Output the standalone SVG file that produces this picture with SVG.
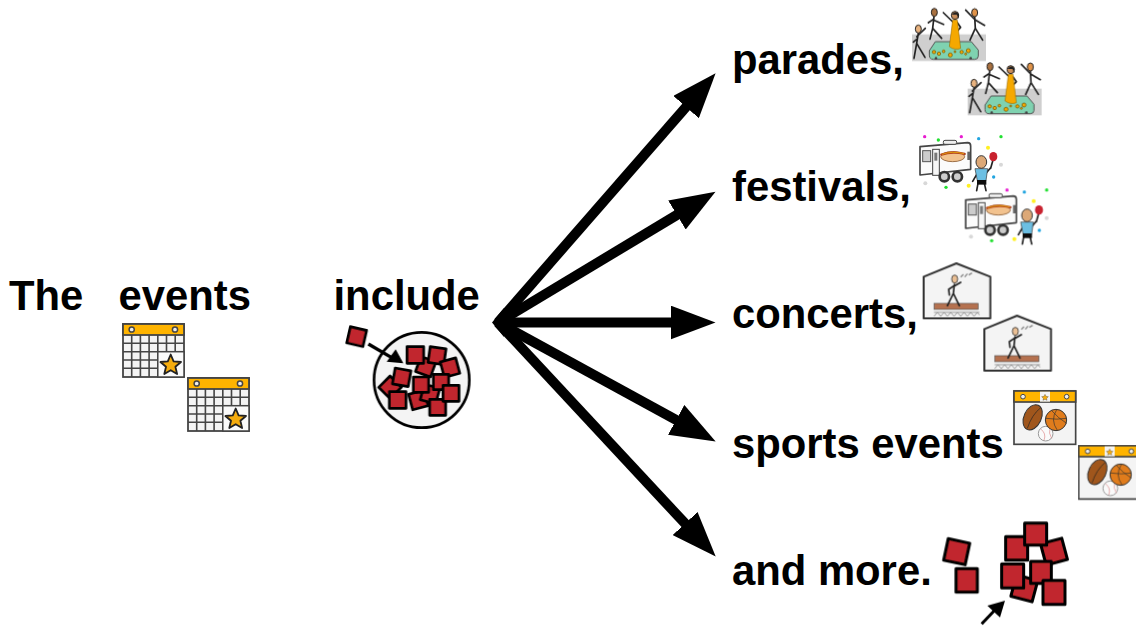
<svg xmlns="http://www.w3.org/2000/svg" width="1136" height="627" viewBox="0 0 1136 627">
<style>
text{font-family:"Liberation Sans",Arial,sans-serif;font-weight:700;font-size:41.8px;fill:#000}
.ar{stroke:#000;stroke-width:10;fill:none;marker-end:url(#head)}
.sq{fill:#c1272d;stroke:#000;stroke-width:8;stroke-linejoin:round}
.st{fill:none;stroke:#222;stroke-width:5;stroke-linecap:round;stroke-linejoin:round}
.grid{fill:none;stroke:#444;stroke-width:1.6}
.soft{filter:url(#soft)}
</style>
<defs>
<filter id="soft" x="-5%" y="-5%" width="110%" height="110%"><feGaussianBlur stdDeviation="0.35"/></filter>
<marker id="head" markerUnits="userSpaceOnUse" markerWidth="46" markerHeight="34" refX="3" refY="17" orient="auto"><path d="M0 0L45 17L0 34z" fill="#000"/></marker>
<g id="calendar">
<rect x="0" y="0" width="61" height="53" fill="#f4f4f4" stroke="#444" stroke-width="1.8"/>
<path class="grid" d="M8.7 11V53M17.4 11V53M26.1 11V53M34.8 11V27.7M43.5 11V27.7M52.2 11V27.7M0 19.3H61M0 27.7H61M0 36H34.8M0 44.3H34.8M34.8 27.7V53"/>
<rect x="34.8" y="27.7" width="26.2" height="25.3" fill="#fafafa" stroke="#444" stroke-width="1.5"/>
<rect x="0" y="0" width="61" height="11" fill="#ffb400" stroke="#444" stroke-width="1.8"/>
<circle cx="8.7" cy="5.5" r="2.6" fill="#eee" stroke="#444" stroke-width="1.5"/>
<circle cx="52" cy="5.5" r="2.6" fill="#eee" stroke="#444" stroke-width="1.5"/>
<path d="M47.7 30.5L50.6 37.3L58 38L52.4 42.8L54.1 50L47.7 46.2L41.3 50L43 42.8L37.4 38L44.8 37.3z" fill="#f5ac10" stroke="#222" stroke-width="1.8" stroke-linejoin="round"/>
</g>
<g id="parade">
<rect x="36" y="103" width="222" height="80" fill="#cfcfcf"/>
<path d="M88 152L106 125H214L235 150V168Q235 178 224 178H100Q88 178 88 165z" fill="#7fd2b0" stroke="#555" stroke-width="3"/>
<circle cx="108" cy="175" r="4" fill="#444"/><circle cx="212" cy="175" r="4" fill="#444"/>
<g fill="#f5a800" stroke="#6b5000" stroke-width="2"><circle cx="102" cy="156" r="5"/><circle cx="117" cy="161" r="5"/><circle cx="131" cy="154" r="4"/><circle cx="151" cy="165" r="6"/><circle cx="165" cy="155" r="3"/><circle cx="185" cy="156" r="5"/><circle cx="197" cy="162" r="3"/><circle cx="205" cy="152" r="6"/></g>
<path class="st" d="M55 100L50 130L42 175M50 130L75 172M50 110L76 85M50 118L40 126"/>
<ellipse cx="55" cy="87" rx="9" ry="12" fill="#e8b27e" stroke="#222" stroke-width="3"/>
<path class="st" d="M102 50L98 85L90 117M98 85L125 115M100 58L85 68M100 60L131 73"/>
<ellipse cx="103" cy="37" rx="9" ry="12" fill="#a9713f" stroke="#222" stroke-width="3"/>
<path class="st" d="M224 50L226 85L210 120M226 85L248 120M222 56L197 30M226 60L254 76"/>
<ellipse cx="224" cy="38" rx="9" ry="12" fill="#e0934a" stroke="#222" stroke-width="3"/>
<path class="st" d="M158 65L130 38M172 68L182 82L170 95"/>
<path d="M158 60H172L182 145Q165 152 148 140z" fill="#f5a800" stroke="#8a6000" stroke-width="1.5"/>
<ellipse cx="165" cy="46" rx="11" ry="12" fill="#c98d5a" stroke="#222" stroke-width="3"/>
<path d="M155 44Q165 30 177 42L177 56L170 44z" fill="#222"/>
</g>
<g id="truck">
<path d="M60 440L203 428Q212 428 212 438V508L60 525z" fill="#fbfbfb" stroke="#444" stroke-width="5" stroke-linejoin="round"/>
<rect x="130" y="421" width="40" height="12" rx="5" fill="#eee" stroke="#444" stroke-width="3"/>
<rect x="68" y="452" width="24" height="33" fill="#ccc" stroke="#555" stroke-width="3"/>
<rect x="98" y="448" width="20" height="78" fill="#f7f7f7" stroke="#444" stroke-width="3"/>
<rect x="103" y="458" width="9" height="24" fill="#777"/>
<ellipse cx="158" cy="470" rx="36" ry="15" fill="#f2c28e" stroke="#8a5a30" stroke-width="2.5"/>
<path d="M124 464Q158 452 194 462" stroke="#b4431d" stroke-width="7" fill="none" stroke-linecap="round"/>
<path d="M126 463Q158 452 192 461" stroke="#f5c100" stroke-width="2" fill="none"/>
<rect x="202" y="455" width="8" height="25" fill="#666"/>
<circle cx="133" cy="530" r="14" fill="#ccc" stroke="#333" stroke-width="8"/>
<circle cx="172" cy="530" r="14" fill="#ccc" stroke="#333" stroke-width="8"/>
<path class="st" d="M232 520L218 544M258 520L272 503M278 484L272 505M235 545L230 572M252 545L258 572"/>
<path d="M225 506H263L258 542H232z" fill="#6cbfe3" stroke="#333" stroke-width="2"/>
<rect x="231" y="540" width="28" height="14" fill="#111"/>
<ellipse cx="244" cy="486" rx="16" ry="19" fill="#dca877" stroke="#333" stroke-width="3"/>
<ellipse cx="280" cy="470" rx="12" ry="14" fill="#c8202e"/>
<circle cx="184" cy="410" r="5" fill="#e81fd0"/><circle cx="236" cy="416" r="5" fill="#22a5e0"/><circle cx="303" cy="410" r="5" fill="#22e030"/><circle cx="264" cy="443" r="6" fill="#fff020"/><circle cx="303" cy="494" r="6" fill="#d8d8d8"/><circle cx="281" cy="531" r="5" fill="#22a5e0"/><circle cx="206" cy="557" r="6" fill="#fff020"/><circle cx="138" cy="562" r="5" fill="#22e030"/><circle cx="76" cy="550" r="6" fill="#d8d8d8"/>
</g>
<g id="concert">
<path d="M41 65L139 25L241 65V190H41z" fill="#f4f4f4" stroke="#333" stroke-width="6" stroke-linejoin="round"/>
<rect x="72" y="145" width="133" height="18" fill="#b5714f" stroke="#555" stroke-width="2"/>
<path class="st" d="M133 88L130 115L112 152M130 115L148 152M132 92L116 103L118 120M135 92L152 82"/>
<ellipse cx="134" cy="72" rx="9" ry="12" fill="#eabf94" stroke="#333" stroke-width="2.5"/>
<path d="M152 66L160 58M164 66L172 56M176 60L186 54" stroke="#888" stroke-width="4" fill="none"/>
<path d="M72 184L82 172L92 184L102 172L112 184L122 172L132 184L142 172L152 184L162 172L172 184L182 172L192 184L202 172L208 180M72 172H208" fill="none" stroke="#888" stroke-width="2.5"/>
</g>
<g id="sports">
<rect x="312" y="408" width="185" height="160" fill="#f4f4f4" stroke="#444" stroke-width="5"/>
<rect x="312" y="408" width="185" height="33" fill="#ffb400" stroke="#444" stroke-width="5"/>
<rect x="390" y="410" width="30" height="30" fill="#f4f4f4"/>
<path d="M405 418L408 424L415 425L410 430L411 436L405 433L399 436L400 430L395 425L402 424z" fill="#f5ac10" stroke="#333" stroke-width="1"/>
<circle cx="339" cy="425" r="7" fill="#eee" stroke="#444" stroke-width="3"/>
<circle cx="470" cy="425" r="7" fill="#eee" stroke="#444" stroke-width="3"/>
<ellipse cx="368" cy="487" rx="26" ry="40" transform="rotate(25 368 487)" fill="#a0561d" stroke="#333" stroke-width="3"/>
<path d="M392 458Q365 480 352 520" stroke="#222" stroke-width="2" fill="none"/>
<circle cx="407" cy="536" r="22" fill="#fafafa" stroke="#999" stroke-width="3"/>
<path d="M392 522Q410 535 402 556M420 518Q415 535 425 550" stroke="#d88" stroke-width="2" fill="none"/>
<circle cx="438" cy="495" r="32" fill="#e07b1a" stroke="#333" stroke-width="3"/>
<path d="M408 490Q440 495 470 490M440 464Q420 495 442 526M425 467Q445 490 470 505" stroke="#333" stroke-width="2" fill="none"/>
</g>
</defs>
<g id="connectors">
<path d="M492 322.5L504 308V337z" fill="#000"/>
<path class="ar" d="M498 322.5L688 104.8"/>
<path class="ar" d="M498 322.5L679.5 213.4"/>
<path class="ar" d="M498 322.5H673.5"/>
<path class="ar" d="M498 322.5L678.8 421.3"/>
<path class="ar" d="M498 322.5L687.1 525.7"/>
</g>
<g id="node-the"><text x="9" y="310">The</text></g>
<g id="node-events"><text x="118.5" y="310">events</text>
<use href="#calendar" x="123" y="324" class="soft"/><use href="#calendar" x="188" y="378" class="soft"/></g>
<g id="node-include"><text x="333.5" y="310">include</text>
<g transform="translate(335 320) scale(.3333)" class="soft">
<circle cx="260" cy="180" r="143" fill="#f4f4f4" stroke="#000" stroke-width="8"/>
<path d="M100 72L170 113" stroke="#000" stroke-width="10"/><path d="M205 130L182 88L155 125z" fill="#000"/>
<g class="sq">
<rect x="-25" y="-25" width="50" height="50" transform="translate(65 50) rotate(13)"/>
<rect x="-24" y="-24" width="48" height="48" transform="translate(165 202) rotate(45)"/>
<rect x="-24" y="-24" width="48" height="48" transform="translate(272 140) rotate(20)"/>
<rect x="-24" y="-24" width="48" height="48" transform="translate(250 240) rotate(-15)"/>
<rect x="-24" y="-24" width="48" height="48" transform="translate(285 222) rotate(15)"/>
<rect x="-25" y="-25" width="50" height="50" transform="translate(241 105)"/>
<rect x="-24" y="-24" width="48" height="48" transform="translate(306 107) rotate(8)"/>
<rect x="-24" y="-24" width="48" height="48" transform="translate(345 143) rotate(-15)"/>
<rect x="-24" y="-24" width="48" height="48" transform="translate(200 172) rotate(10)"/>
<rect x="-23" y="-23" width="46" height="46" transform="translate(318 186)"/>
<rect x="-23" y="-23" width="46" height="46" transform="translate(258 194)"/>
<rect x="-25" y="-25" width="50" height="50" transform="translate(188 240)"/>
<rect x="-24" y="-24" width="48" height="48" transform="translate(308 262)"/>
<rect x="-24" y="-24" width="48" height="48" transform="translate(348 220)"/>
</g></g></g>
<g id="node-parades"><text x="732" y="74">parades,</text>
<g transform="translate(900 0) scale(.3333)" class="soft"><use href="#parade"/><use href="#parade" x="167" y="163"/></g></g>
<g id="node-festivals"><text x="732" y="201">festivals,</text>
<g transform="translate(900 0) scale(.3333)" class="soft"><use href="#truck"/><circle cx="74" cy="410" r="5" fill="#e81fd0"/><circle cx="115" cy="420" r="5" fill="#22e030"/><use href="#truck" x="137" y="160"/></g></g>
<g id="node-concerts"><text x="732" y="328">concerts,</text>
<g transform="translate(910 255) scale(.3333)" class="soft"><use href="#concert"/><use href="#concert" x="182" y="157"/></g></g>
<g id="node-sports"><text x="732" y="458">sports events</text>
<g transform="translate(910 255) scale(.3333)" class="soft"><use href="#sports"/><use href="#sports" x="194" y="164"/></g></g>
<g id="node-more"><text x="732" y="585">and more.</text>
<g transform="translate(930 510) scale(.3333)" class="soft">
<g class="sq" style="stroke-width:9">
<rect x="-33" y="-33" width="66" height="66" transform="translate(80 125) rotate(12)"/>
<rect x="-32" y="-35" width="64" height="70" transform="translate(110 211)"/>
<rect x="-33" y="-35" width="66" height="70" transform="translate(260 115)"/>
<rect x="-33" y="-33" width="66" height="66" transform="translate(372 125) rotate(-15)"/>
<rect x="-33" y="-33" width="66" height="66" transform="translate(317 72)"/>
<rect x="-33" y="-33" width="66" height="66" transform="translate(283 235) rotate(15)"/>
<rect x="-31" y="-33" width="62" height="66" transform="translate(333 187)"/>
<rect x="-33" y="-36" width="66" height="72" transform="translate(248 198)"/>
<rect x="-33" y="-36" width="66" height="72" transform="translate(372 247)"/>
</g>
<path d="M155 342L195 300" stroke="#000" stroke-width="9"/><path d="M225 272L172 287L210 322z" fill="#000"/>
</g></g>
</svg>
